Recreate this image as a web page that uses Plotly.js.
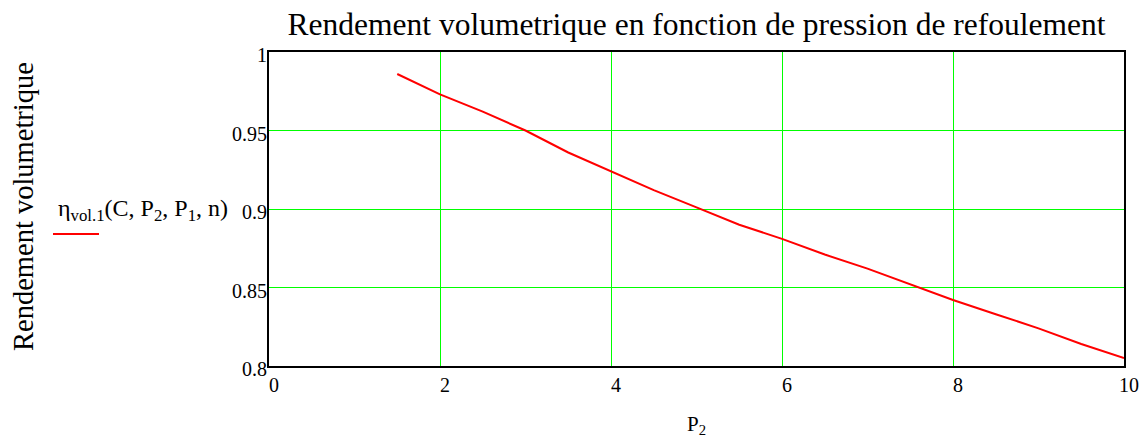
<!DOCTYPE html>
<html>
<head>
<meta charset="utf-8">
<script src="https://cdn.plot.ly/plotly-3.0.1.min.js"></script>
<style>
  html, body { margin: 0; padding: 0; background: #fff; }
  #chart { width: 1146px; height: 438px; }
</style>
</head>
<body>
<div id="chart"></div>
<script>
// Discharge pressure P2 and volumetric efficiency values
const p2 = [1.5, 2, 2.5, 3, 3.5, 4, 4.5, 5, 5.5, 6, 6.5, 7, 7.5, 8, 8.5, 9, 9.5, 10];
const etaVol = [0.986, 0.973, 0.962, 0.950, 0.936, 0.924, 0.912, 0.901, 0.890,
                0.881, 0.871, 0.862, 0.852, 0.842, 0.833, 0.824, 0.814, 0.805];

// Axis ticks and their labels
const xTicks = [0, 2, 4, 6, 8, 10];
const xTickLabels = ['0', '2', '4', '6', '8', '10'];
const yTicks = [0.8, 0.85, 0.9, 0.95, 1];
const yTickLabels = ['0.8', '0.85', '0.9', '0.95', '1'];

const serif = 'Liberation Serif';
const black = '#000000';

// Tick labels drawn as serif annotations anchored to the axis scales
const xLabelNotes = xTicks.map((v, i) => ({
  text: xTickLabels[i],
  xref: 'x', yref: 'paper',
  x: v, y: 0,
  xanchor: 'center', yanchor: 'middle',
  xshift: 5, yshift: -19,
  showarrow: false,
  font: { family: serif, size: 20, color: black }
}));

const yLabelNotes = yTicks.map((v, i) => ({
  text: yTickLabels[i],
  xref: 'paper', yref: 'y',
  x: 0, y: v,
  xanchor: 'right', yanchor: 'middle',
  xshift: 0, yshift: -3,
  showarrow: false,
  font: { family: serif, size: 20, color: black }
}));

const layout = {
  width: 1146,
  height: 438,
  margin: { l: 269, r: 22, t: 52, b: 72 },
  font: { family: serif, color: black, size: 20 },
  title: {
    text: 'Rendement volumetrique en fonction de pression de refoulement',
    font: { family: serif, size: 31.5, color: black },
    x: 0.5,
    xref: 'paper',
    xanchor: 'center',
    y: 1 - 24 / 438,
    yref: 'container',
    yanchor: 'middle'
  },
  xaxis: {
    range: [xTicks[0], xTicks[xTicks.length - 1]],
    tickmode: 'array',
    tickvals: xTicks,
    showticklabels: false,
    gridcolor: '#00ff00',
    zerolinecolor: black,
    zerolinewidth: 2,
    showline: true,
    linecolor: black,
    linewidth: 2,
    mirror: true
  },
  yaxis: {
    range: [yTicks[0], yTicks[yTicks.length - 1]],
    tickmode: 'array',
    tickvals: yTicks,
    showticklabels: false,
    gridcolor: '#00ff00',
    showline: true,
    linecolor: black,
    linewidth: 2,
    mirror: true
  },
  annotations: [
    {
      text: 'P<sub>2</sub>',
      xref: 'paper', yref: 'paper',
      x: 0.5, y: (366 - 425) / 314,
      xanchor: 'center', yanchor: 'middle',
      showarrow: false,
      font: { family: serif, size: 21, color: black }
    },
    {
      text: 'Rendement volumetrique',
      textangle: -90,
      xref: 'paper', yref: 'paper',
      x: (23 - 269) / 855, xanchor: 'center',
      y: (366 - 207) / 314, yanchor: 'middle',
      showarrow: false,
      font: { family: serif, size: 28.5, color: black }
    },
    {
      text: 'η<sub>vol.1</sub>(C, P<sub>2</sub>, P<sub>1</sub>, n)',
      xref: 'paper', yref: 'paper',
      x: (56 - 269) / 855, xanchor: 'left',
      y: (366 - 210) / 314, yanchor: 'middle',
      showarrow: false,
      font: { family: serif, size: 24, color: black }
    }
  ].concat(xLabelNotes, yLabelNotes),
  shapes: [
    {
      type: 'line',
      xref: 'paper', yref: 'paper',
      x0: (53 - 269) / 855, x1: (99 - 269) / 855,
      y0: (366 - 234) / 314, y1: (366 - 234) / 314,
      line: { color: '#ff0000', width: 2 }
    }
  ]
};

Plotly.newPlot('chart', [{
  x: p2,
  y: etaVol,
  type: 'scatter',
  mode: 'lines',
  line: { color: '#ff0000', width: 2 },
  showlegend: false
}], layout, { displayModeBar: false });
</script>
</body>
</html>
